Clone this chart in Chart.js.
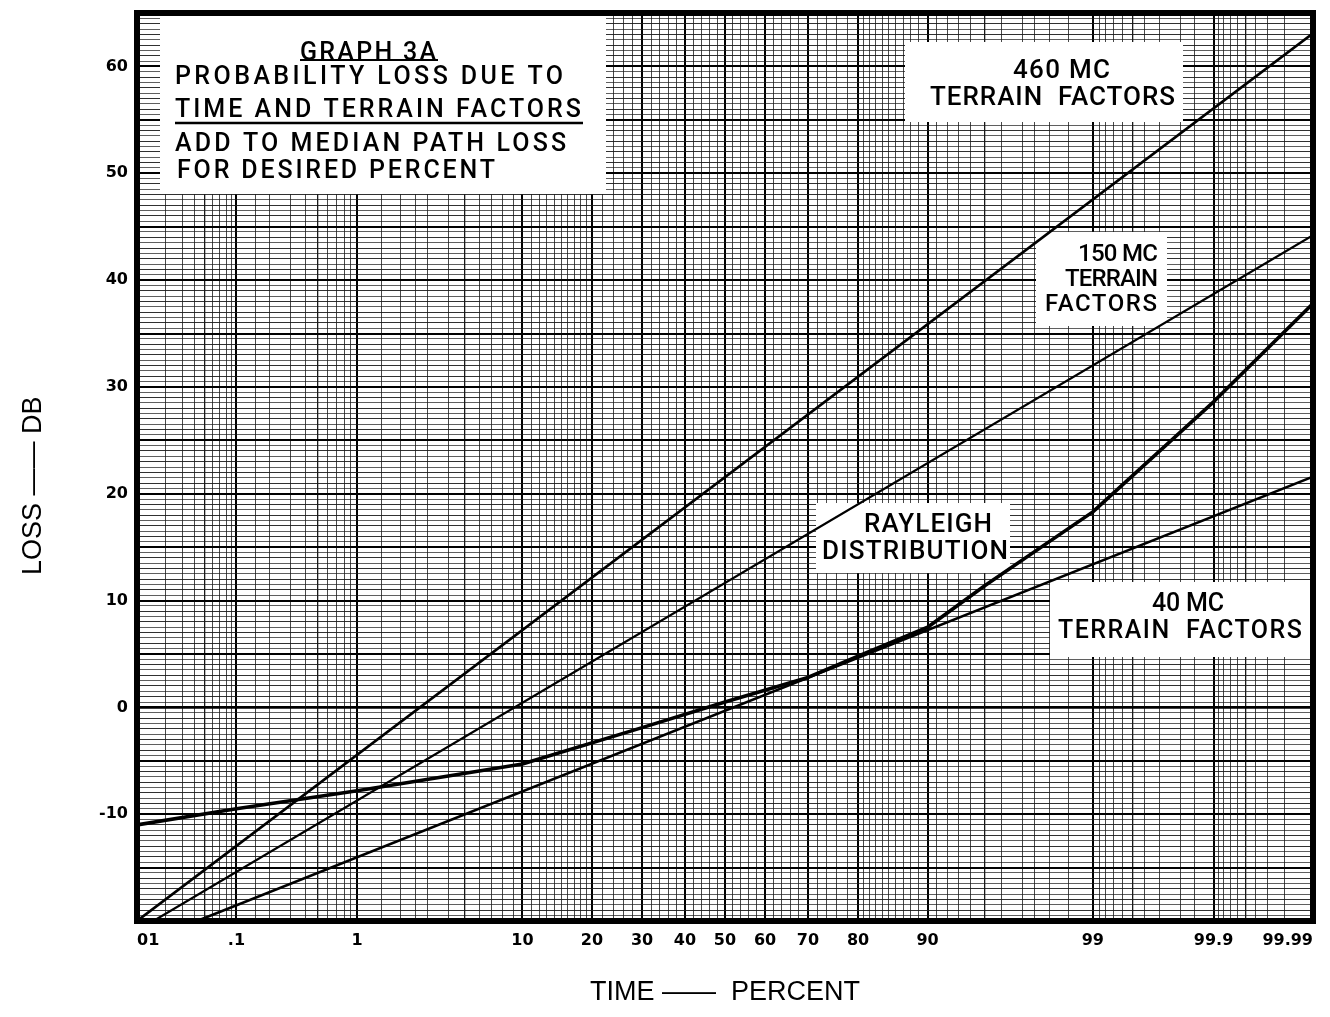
<!DOCTYPE html>
<html>
<head>
<meta charset="utf-8">
<script src="https://cdn.jsdelivr.net/npm/chart.js@4.4.1/dist/chart.umd.min.js"></script>
<style>
  html, body { margin: 0; padding: 0; background: #fff; }
  canvas { display: block; }
</style>
</head>
<body>
<canvas id="graph3a" width="1330" height="1017"></canvas>
<script>
// time percent (probability scale) and loss in dB
var pct460 = [0.01, 99.99];
var loss460 = [-20, 63.1];

var pct150 = [0.015, 99.99];
var loss150 = [-20, 44.2];

var pct40 = [0.042, 99.99];
var loss40 = [-20, 21.6];

var pctRayleigh = [0.01, 0.1, 1, 10, 30, 50, 70, 80, 90, 95, 99, 99.9, 99.99];
var lossRayleigh = [-11.0, -9.5, -7.8, -5.3, -1.9, 0.5, 2.8, 4.8, 7.5, 11.4, 18.3, 28.6, 37.8];

// probability paper rulings and the labelled ones
var xGridPct = [
    0.01, 0.02, 0.03, 0.04, 0.05, 0.06, 0.07, 0.08, 0.09,
    0.1, 0.15, 0.2, 0.3, 0.4, 0.5, 0.6, 0.7, 0.8, 0.9,
    1, 1.5, 2, 2.5, 3, 4, 5, 6, 7, 8, 9,
    10, 11, 12, 13, 14, 15, 16, 17, 18, 19,
    20, 22, 24, 26, 28, 30, 32, 34, 36, 38, 40, 42, 44, 46, 48,
    50, 52, 54, 56, 58, 60, 62, 64, 66, 68, 70, 72, 74, 76, 78,
    80, 81, 82, 83, 84, 85, 86, 87, 88, 89,
    90, 91, 92, 93, 94, 95, 96, 97, 97.5, 98, 98.5,
    99, 99.1, 99.2, 99.3, 99.4, 99.5, 99.6, 99.7, 99.8, 99.85,
    99.9, 99.91, 99.92, 99.93, 99.94, 99.95, 99.96, 99.97, 99.98, 99.99
];
var xMajorPct = [0.01, 0.1, 1, 10, 20, 30, 40, 50, 60, 70, 80, 90, 99, 99.9, 99.99];
var xMajorText = ['01', '.1', '1', '10', '20', '30', '40', '50', '60', '70', '80', '90', '99', '99.9', '99.99'];
var xMediumPct = [0.05, 0.5, 5, 95, 99.5, 99.95];

var yLabelValues = [-10, 0, 10, 20, 30, 40, 50, 60];
var yMin = -20;
var yMax = 65;

// inverse normal, gives the position on probability paper
function probit(pct) {
    const p = pct / 100;
    const a = [-3.969683028665376e+01, 2.209460984245205e+02, -2.759285104469687e+02, 1.383577518672690e+02, -3.066479806614716e+01, 2.506628277459239e+00];
    const b = [-5.447609879822406e+01, 1.615858368580409e+02, -1.556989798598866e+02, 6.680131188771972e+01, -1.328068155288572e+01];
    const c = [-7.784894002430293e-03, -3.223964580411365e-01, -2.400758277161838e+00, -2.549732539343734e+00, 4.374664141464968e+00, 2.938163982698783e+00];
    const d = [7.784695709041462e-03, 3.224671290700398e-01, 2.445134137142996e+00, 3.754408661907416e+00];
    const pl = 0.02425;
    let q, r;
    if (p < pl) {
        q = Math.sqrt(-2 * Math.log(p));
        return (((((c[0] * q + c[1]) * q + c[2]) * q + c[3]) * q + c[4]) * q + c[5]) / ((((d[0] * q + d[1]) * q + d[2]) * q + d[3]) * q + 1);
    }
    if (p <= 1 - pl) {
        q = p - 0.5;
        r = q * q;
        return (((((a[0] * r + a[1]) * r + a[2]) * r + a[3]) * r + a[4]) * r + a[5]) * q / (((((b[0] * r + b[1]) * r + b[2]) * r + b[3]) * r + b[4]) * r + 1);
    }
    q = Math.sqrt(-2 * Math.log(1 - p));
    return -(((((c[0] * q + c[1]) * q + c[2]) * q + c[3]) * q + c[4]) * q + c[5]) / ((((d[0] * q + d[1]) * q + d[2]) * q + d[3]) * q + 1);
}

function toPoints(pcts, losses) {
    return pcts.map((p, i) => ({ x: probit(p), y: losses[i] }));
}

// white patches with the lettering
const boxes = [
    { x: 160, y: 15, w: 446, h: 179 },
    { x: 905, y: 42, w: 278, h: 80 },
    { x: 1036, y: 232, w: 131, h: 94 },
    { x: 816, y: 503, w: 194, h: 70 },
    { x: 1050, y: 582, w: 260, h: 75 }
];
const letters = [
    { t: 'GRAPH 3A', l: 300, r: 436, cy: 51, size: 25, under: 60 },
    { t: 'PROBABILITY LOSS DUE TO', l: 175, r: 563, cy: 75, size: 25 },
    { t: 'TIME AND TERRAIN FACTORS', l: 175, r: 581, cy: 108, size: 25, under: 123 },
    { t: 'ADD TO MEDIAN PATH LOSS', l: 175, r: 566, cy: 142, size: 25 },
    { t: 'FOR DESIRED PERCENT', l: 177, r: 495, cy: 169, size: 25 },
    { t: '460 MC', l: 1013, r: 1110, cy: 69, size: 26 },
    { t: 'TERRAIN  FACTORS', l: 930, r: 1175, cy: 96, size: 26 },
    { t: '150 MC', l: 1078, r: 1158, cy: 252, size: 24 },
    { t: 'TERRAIN', l: 1065, r: 1158, cy: 277, size: 24 },
    { t: 'FACTORS', l: 1045, r: 1157, cy: 302, size: 24 },
    { t: 'RAYLEIGH', l: 864, r: 992, cy: 523, size: 26 },
    { t: 'DISTRIBUTION', l: 822, r: 1008, cy: 550, size: 26 },
    { t: '40 MC', l: 1152, r: 1224, cy: 602, size: 25 },
    { t: 'TERRAIN  FACTORS', l: 1058, r: 1302, cy: 629, size: 25 }
];

function drawLettering(ctx, item) {
    ctx.font = '500 ' + item.size + "px Roboto, 'Liberation Sans', Arial, sans-serif";
    ctx.textAlign = 'left';
    ctx.textBaseline = 'alphabetic';
    const base = item.cy + item.size * 0.36;
    const target = item.r - item.l;
    if ('letterSpacing' in ctx) {
        ctx.letterSpacing = '0px';
        const w0 = ctx.measureText(item.t).width;
        ctx.letterSpacing = ((target - w0) / (item.t.length - 1)).toFixed(2) + 'px';
        ctx.fillText(item.t, item.l, base);
        ctx.letterSpacing = '0px';
    } else {
        const w0 = ctx.measureText(item.t).width;
        ctx.save();
        ctx.translate(item.l, base);
        ctx.scale(target / w0, 1);
        ctx.fillText(item.t, 0, 0);
        ctx.restore();
    }
    if (item.under) {
        ctx.beginPath();
        ctx.lineWidth = item.t === 'GRAPH 3A' ? 2 : 2.5;
        ctx.moveTo(item.l, item.under);
        ctx.lineTo(item.r + 2, item.under);
        ctx.stroke();
    }
}

const paperPlugin = {
    id: 'paper',
    beforeDatasetsDraw(chart) {
        const ctx = chart.ctx;
        ctx.save();
        ctx.fillStyle = '#fff';
        boxes.forEach(b => ctx.fillRect(b.x, b.y, b.w, b.h));
        ctx.fillStyle = '#000';
        ctx.strokeStyle = '#000';
        letters.forEach(item => drawLettering(ctx, item));
        ctx.restore();
    },
    afterDraw(chart) {
        const a = chart.chartArea;
        const ctx = chart.ctx;
        ctx.save();
        ctx.strokeStyle = '#000';
        ctx.lineWidth = 6;
        ctx.strokeRect(a.left, a.top, a.right - a.left, a.bottom - a.top);
        ctx.restore();
    }
};

function lineSet(points, width) {
    return {
        data: points,
        showLine: true,
        borderColor: '#000',
        borderWidth: width,
        pointRadius: 0,
        tension: 0,
        borderJoinStyle: 'round',
        borderCapStyle: 'round'
    };
}

const tickFont = { family: "'DejaVu Sans', sans-serif", size: 16, weight: 'bold' };
const titleFont = { family: "'Liberation Sans', Arial, sans-serif", size: 27 };

new Chart(document.getElementById('graph3a'), {
    type: 'scatter',
    data: {
        datasets: [
            lineSet(toPoints(pct460, loss460), 2.6),
            lineSet(toPoints(pct150, loss150), 2.2),
            lineSet(toPoints(pctRayleigh, lossRayleigh), 3.6),
            lineSet(toPoints(pct40, loss40), 2.6)
        ]
    },
    options: {
        responsive: false,
        animation: false,
        devicePixelRatio: 1,
        layout: { padding: { top: 13, right: 17, left: 0, bottom: 0 } },
        plugins: {
            legend: { display: false },
            tooltip: { enabled: false }
        },
        scales: {
            x: {
                type: 'linear',
                min: probit(0.01),
                max: probit(99.99),
                afterBuildTicks: scale => {
                    scale.ticks = xGridPct.map(p => ({ value: probit(p) }));
                },
                afterFit: scale => {
                    scale.height = 96;
                    scale.paddingLeft = 0;
                    scale.paddingRight = 0;
                },
                border: { display: false },
                grid: {
                    drawTicks: false,
                    color: ctx => xMajorPct.includes(xGridPct[ctx.index]) ? '#000' : '#1a1a1a',
                    lineWidth: ctx => {
                        const p = xGridPct[ctx.index];
                        if (xMajorPct.includes(p)) return 2;
                        if (xMediumPct.includes(p)) return 1.3;
                        return 0.8;
                    }
                },
                ticks: {
                    autoSkip: false,
                    maxRotation: 0,
                    align: 'inner',
                    padding: 10,
                    color: '#000',
                    font: tickFont,
                    callback: (value, index) => {
                        const k = xMajorPct.indexOf(xGridPct[index]);
                        return k >= 0 ? xMajorText[k] : '';
                    }
                },
                title: {
                    display: true,
                    text: 'TIME ——  PERCENT',
                    color: '#000',
                    font: titleFont,
                    padding: { top: 0, bottom: 8 }
                }
            },
            y: {
                min: yMin,
                max: yMax,
                afterBuildTicks: scale => {
                    const t = [];
                    for (let v = yMin; v <= yMax; v += 0.5) t.push({ value: v });
                    scale.ticks = t;
                },
                afterFit: scale => {
                    scale.width = 137;
                    scale.paddingTop = 0;
                    scale.paddingBottom = 0;
                },
                border: { display: false },
                grid: {
                    drawTicks: false,
                    color: ctx => ctx.tick.value % 5 === 0 ? '#000' : '#1a1a1a',
                    lineWidth: ctx => {
                        const v = ctx.tick.value;
                        if (v === 0) return 2.8;
                        if (v % 5 === 0) return 1.9;
                        if (Number.isInteger(v)) return 0.9;
                        return 0.7;
                    }
                },
                ticks: {
                    autoSkip: false,
                    padding: 9,
                    color: '#000',
                    font: tickFont,
                    callback: value => yLabelValues.includes(value) ? String(value) : ''
                },
                title: {
                    display: true,
                    // trailing spaces move the rotated title down to where it sits in the original
                    text: 'LOSS —— DB     ',
                    color: '#000',
                    font: titleFont,
                    padding: { top: 17, bottom: 0 }
                }
            }
        }
    },
    plugins: [paperPlugin]
});
</script>
</body>
</html>
